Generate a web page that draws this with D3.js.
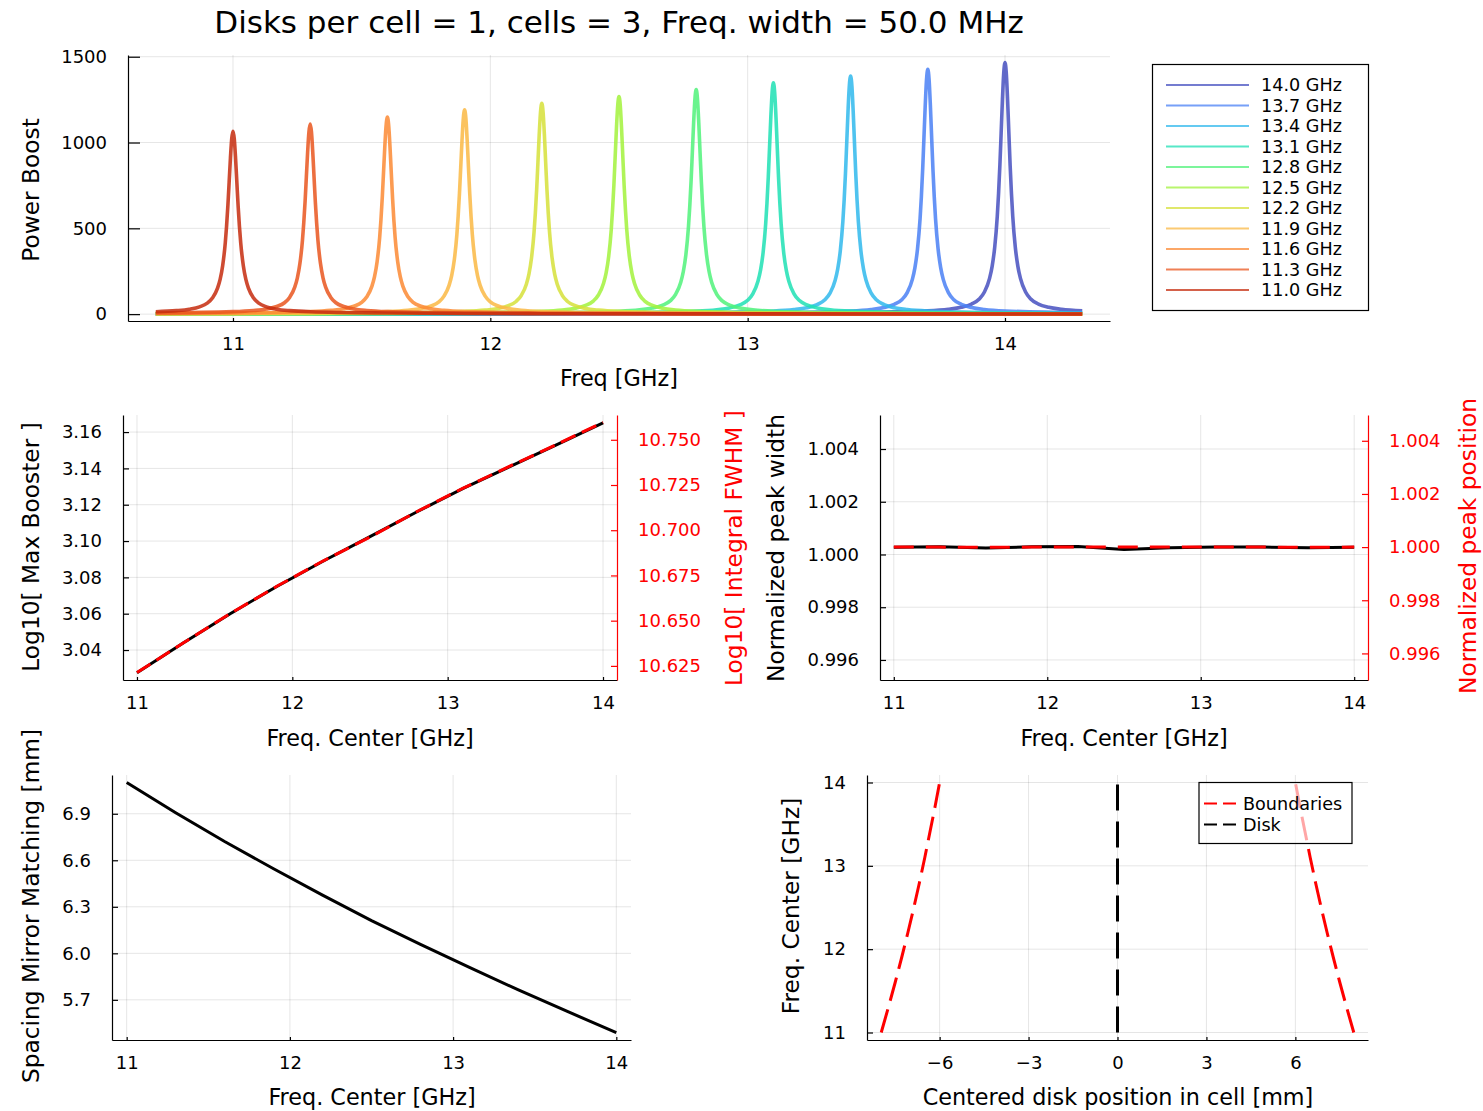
<!DOCTYPE html>
<html>
<head>
<meta charset="utf-8">
<script src="https://cdn.jsdelivr.net/npm/d3@7"></script>
<style>
  body { margin: 0; background: #fff; }
  svg text { font-family: "DejaVu Sans", sans-serif; }
</style>
</head>
<body>
<svg id="chart" width="1483" height="1111"></svg>
<script>
// values
var freqCenters = [11.0, 11.3, 11.6, 11.9, 12.2, 12.5, 12.8, 13.1, 13.4, 13.7, 14.0];
var seriesLabels = ["11.0 GHz", "11.3 GHz", "11.6 GHz", "11.9 GHz", "12.2 GHz", "12.5 GHz",
                    "12.8 GHz", "13.1 GHz", "13.4 GHz", "13.7 GHz", "14.0 GHz"];
var seriesColors = ["#c52c0e", "#e9561e", "#fb8a34", "#fab844", "#d6e03a", "#a2f23c",
                    "#50f27a", "#1fe0b4", "#30b8ec", "#4a80f5", "#4650c0"];
var peakHeights = [1066, 1107, 1148, 1190, 1229, 1268, 1308, 1348, 1388, 1427, 1466];
var freqSpan = [10.7, 14.3];
// shape of one resonance (offset from centre in GHz, fraction of peak height)
var profileOffsets = [0, 0.005, 0.01, 0.015, 0.02, 0.025, 0.03, 0.04, 0.05, 0.06, 0.08, 0.1,
                      0.13, 0.17, 0.22, 0.3, 0.6, 0.9, 1.2, 1.5, 1.8, 2.1, 2.4, 2.7, 3.0, 3.3, 3.6];
var profileValues = [1, 0.958, 0.852, 0.72, 0.59, 0.48, 0.39, 0.266, 0.19, 0.142, 0.088, 0.06,
                     0.04, 0.027, 0.019, 0.013, 0.006, 0.0035, 0.0025, 0.002, 0.0015, 0.0012,
                     0.001, 0.0009, 0.0008, 0.0007, 0.0006];

var logMaxBoost = [3.0275, 3.0440, 3.0600, 3.0750, 3.0890, 3.1024, 3.1160, 3.1290, 3.1410, 3.1530, 3.1651];
var logIntegralFwhm = [10.6213, 10.6378, 10.6539, 10.6690, 10.6831, 10.6962, 10.7102, 10.7233, 10.7354, 10.7474, 10.7596];
var normPeakWidth = [1.00027, 1.00029, 1.00025, 1.00029, 1.00030, 1.00019, 1.00026, 1.00028, 1.00028, 1.00026, 1.00027];
var normPeakPosition = [1.00000, 1.00000, 0.99999, 1.00000, 1.00000, 1.00000, 1.00000, 1.00000, 1.00000, 0.99999, 1.00000];
var spacingMirror = [7.102, 6.907, 6.721, 6.545, 6.375, 6.211, 6.058, 5.910, 5.764, 5.625, 5.489];
var boundaryPos = [7.97, 7.73, 7.50, 7.28, 7.07, 6.87, 6.68, 6.50, 6.33, 6.16, 6.00];
var diskPos = [0, 0, 0, 0, 0, 0, 0, 0, 0, 0, 0];

var svg = d3.select("#chart");
svg.append("rect").attr("width", 1483).attr("height", 1111).attr("fill", "#fff");

function panel(left, right, top, bottom, xDomain, yDomain) {
    return {
        left: left, right: right, top: top, bottom: bottom,
        x: d3.scaleLinear().domain(xDomain).range([left, right]),
        y: d3.scaleLinear().domain(yDomain).range([bottom, top])
    };
}

function grid(p, xTicks, yTicks) {
    var g = svg.append("g").attr("stroke", "#000").attr("stroke-opacity", 0.1).attr("stroke-width", 1);
    g.selectAll("line.gx").data(xTicks).enter().append("line").attr("class", "gx")
        .attr("x1", function (d) { return p.x(d); }).attr("x2", function (d) { return p.x(d); })
        .attr("y1", p.top).attr("y2", p.bottom);
    g.selectAll("line.gy").data(yTicks).enter().append("line").attr("class", "gy")
        .attr("y1", function (d) { return p.y(d); }).attr("y2", function (d) { return p.y(d); })
        .attr("x1", p.left).attr("x2", p.right);
}

function styleAxis(g, color) {
    g.attr("font-size", null).attr("font-family", null);
    g.selectAll("text").attr("fill", color).style("font-size", "18px");
    g.select(".domain").attr("stroke", color).attr("stroke-width", 1.2);
    g.selectAll(".tick line").attr("stroke", color).attr("stroke-width", 1.2);
}

function axes(p, xTicks, yTicks, xFmt, yFmt, yTickLen) {
    var gx = svg.append("g").attr("transform", "translate(0," + p.bottom + ")")
        .call(d3.axisBottom(p.x).tickValues(xTicks).tickFormat(xFmt)
            .tickSize(-3).tickSizeOuter(0).tickPadding(16));
    styleAxis(gx, "#000");
    var gy = svg.append("g").attr("transform", "translate(" + p.left + ",0)")
        .call(d3.axisLeft(p.y).tickValues(yTicks).tickFormat(yFmt)
            .tickSize(-yTickLen).tickSizeOuter(0).tickPadding(21));
    styleAxis(gy, "#000");
}

function rightAxis(p, y2, ticks, fmt) {
    var g = svg.append("g").attr("transform", "translate(" + p.right + ",0)")
        .call(d3.axisRight(y2).tickValues(ticks).tickFormat(fmt)
            .tickSize(-6).tickSizeOuter(0).tickPadding(21));
    styleAxis(g, "#ff0000");
}

function xLabel(text, cx, y) {
    svg.append("text").attr("x", cx).attr("y", y).attr("text-anchor", "middle")
        .style("font-size", "22.3px").text(text);
}

function yLabel(text, cx, cy, color) {
    svg.append("text").attr("transform", "translate(" + (cx + 8.5) + "," + cy + ") rotate(-90)")
        .attr("text-anchor", "middle").attr("fill", color || "#000")
        .style("font-size", "23.3px").text(text);
}

function lineOf(p, xs, ys, yScale) {
    var ysc = yScale || p.y;
    return d3.line()
        .x(function (d) { return p.x(d[0]); })
        .y(function (d) { return ysc(d[1]); })(d3.zip(xs, ys));
}

// ---------- title ----------
svg.append("text").attr("x", 619).attr("y", 33).attr("text-anchor", "middle")
    .style("font-size", "31px").text("Disks per cell = 1, cells = 3, Freq. width = 50.0 MHz");

// ---------- top: power boost spectra ----------
var pTop = panel(128, 1110, 55, 321, [10.592, 14.408], [-40, 1510]);
grid(pTop, [11, 12, 13, 14], [0, 500, 1000, 1500]);

function peakPoints(i) {
    var c = freqCenters[i], h = peakHeights[i], pts = [], k;
    for (k = profileOffsets.length - 1; k > 0; k--) pts.push([c - profileOffsets[k], h * profileValues[k]]);
    for (k = 0; k < profileOffsets.length; k++) pts.push([c + profileOffsets[k], h * profileValues[k]]);
    return pts.filter(function (d) { return d[0] >= freqSpan[0] - 1e-9 && d[0] <= freqSpan[1] + 1e-9; });
}

var peakLine = d3.line()
    .x(function (d) { return pTop.x(d[0]); })
    .y(function (d) { return pTop.y(d[1]); })
    .curve(d3.curveMonotoneX);

var order = d3.range(freqCenters.length).reverse();
svg.append("g").selectAll("path").data(order).enter().append("path")
    .attr("d", function (i) { return peakLine(peakPoints(i)); })
    .attr("fill", "none")
    .attr("stroke", function (i) { return seriesColors[i]; })
    .attr("stroke-width", 3.6)
    .attr("stroke-opacity", 0.85)
    .attr("stroke-linejoin", "round");

axes(pTop, [11, 12, 13, 14], [0, 500, 1000, 1500], d3.format("d"), d3.format("d"), 12);
xLabel("Freq [GHz]", 619, 386);
yLabel("Power Boost", 30, 190);

// legend
var leg = svg.append("g");
leg.append("rect").attr("x", 1152.5).attr("y", 64.5).attr("width", 216).attr("height", 246)
    .attr("fill", "#fff").attr("stroke", "#000").attr("stroke-width", 1.2);
var legRows = leg.selectAll("g.row").data(order).enter().append("g").attr("class", "row")
    .attr("transform", function (i, k) { return "translate(0," + (85 + k * 20.5) + ")"; });
legRows.append("line").attr("x1", 1166).attr("x2", 1249)
    .attr("stroke", function (i) { return seriesColors[i]; })
    .attr("stroke-width", 2).attr("stroke-opacity", 0.75);
legRows.append("text").attr("x", 1261).attr("dy", "0.35em").style("font-size", "17.6px")
    .text(function (i) { return seriesLabels[i]; });

// ---------- middle left: log max boost / log integral fwhm ----------
var pML = panel(123, 617, 415, 680, [10.91, 14.09], [3.0235, 3.1694]);
var yML2 = d3.scaleLinear().domain([10.6172, 10.7637]).range([680, 415]);
grid(pML, [11, 12, 13, 14], [3.04, 3.06, 3.08, 3.10, 3.12, 3.14, 3.16]);
svg.append("path").attr("d", lineOf(pML, freqCenters, logMaxBoost))
    .attr("fill", "none").attr("stroke", "#000").attr("stroke-width", 3);
svg.append("path").attr("d", lineOf(pML, freqCenters, logIntegralFwhm, yML2))
    .attr("fill", "none").attr("stroke", "#ff0000").attr("stroke-width", 3)
    .attr("stroke-dasharray", "16 7");
axes(pML, [11, 12, 13, 14], [3.04, 3.06, 3.08, 3.10, 3.12, 3.14, 3.16], d3.format("d"), d3.format(".2f"), 6);
rightAxis(pML, yML2, [10.625, 10.650, 10.675, 10.700, 10.725, 10.750], d3.format(".3f"));
xLabel("Freq. Center [GHz]", 370, 746);
yLabel("Log10[ Max Booster ]", 30, 547);
yLabel("Log10[ Integral FWHM ]", 733, 548, "#ff0000");

// ---------- middle right: normalized width / position ----------
var pMR = panel(880, 1368, 415, 680, [10.91, 14.09], [0.99524, 1.00529]);
var yMR2 = d3.scaleLinear().domain([0.99500, 1.00497]).range([680, 415]);
grid(pMR, [11, 12, 13, 14], [0.996, 0.998, 1.000, 1.002, 1.004]);
svg.append("path").attr("d", lineOf(pMR, freqCenters, normPeakWidth))
    .attr("fill", "none").attr("stroke", "#000").attr("stroke-width", 3);
svg.append("path").attr("d", lineOf(pMR, freqCenters, normPeakPosition, yMR2))
    .attr("fill", "none").attr("stroke", "#ff0000").attr("stroke-width", 3)
    .attr("stroke-dasharray", "20 12");
axes(pMR, [11, 12, 13, 14], [0.996, 0.998, 1.000, 1.002, 1.004], d3.format("d"), d3.format(".3f"), 6);
rightAxis(pMR, yMR2, [0.996, 0.998, 1.000, 1.002, 1.004], d3.format(".3f"));
xLabel("Freq. Center [GHz]", 1124, 746);
yLabel("Normalized peak width", 775, 548);
yLabel("Normalized peak position", 1467, 546, "#ff0000");

// ---------- bottom left: spacing mirror matching ----------
var pBL = panel(112, 631, 775, 1040, [10.91, 14.09], [5.441, 7.150]);
grid(pBL, [11, 12, 13, 14], [5.7, 6.0, 6.3, 6.6, 6.9]);
svg.append("path").attr("d", lineOf(pBL, freqCenters, spacingMirror))
    .attr("fill", "none").attr("stroke", "#000").attr("stroke-width", 3);
axes(pBL, [11, 12, 13, 14], [5.7, 6.0, 6.3, 6.6, 6.9], d3.format("d"), d3.format(".1f"), 6);
xLabel("Freq. Center [GHz]", 372, 1105);
yLabel("Spacing Mirror Matching [mm]", 30, 906);

// ---------- bottom right: disk position in cell ----------
var pBR = panel(867, 1368, 775, 1040, [-8.45, 8.45], [10.91, 14.09]);
grid(pBR, [-6, -3, 0, 3, 6], [11, 12, 13, 14]);
var posLine = d3.line()
    .x(function (d) { return pBR.x(d[0]); })
    .y(function (d) { return pBR.y(d[1]); });
var leftBound = boundaryPos.map(function (v) { return -v; });
[leftBound, boundaryPos].forEach(function (b) {
    svg.append("path").attr("d", posLine(d3.zip(b, freqCenters)))
        .attr("fill", "none").attr("stroke", "#ff0000").attr("stroke-width", 3)
        .attr("stroke-dasharray", "24 9");
});
svg.append("path").attr("d", posLine(d3.zip(diskPos, freqCenters)))
    .attr("fill", "none").attr("stroke", "#000").attr("stroke-width", 3)
    .attr("stroke-dasharray", "26 11");
axes(pBR, [-6, -3, 0, 3, 6], [11, 12, 13, 14], d3.format("d"), d3.format("d"), 6);
xLabel("Centered disk position in cell [mm]", 1118, 1105);
yLabel("Freq. Center [GHz]", 790, 906);

var leg2 = svg.append("g");
leg2.append("rect").attr("x", 1199).attr("y", 782.5).attr("width", 153).attr("height", 61)
    .attr("fill", "#fff").attr("fill-opacity", 0.65).attr("stroke", "#000").attr("stroke-width", 1.2);
var leg2Items = [["Boundaries", "#ff0000"], ["Disk", "#000"]];
var leg2Rows = leg2.selectAll("g.row").data(leg2Items).enter().append("g").attr("class", "row")
    .attr("transform", function (d, k) { return "translate(0," + (803.5 + k * 21) + ")"; });
leg2Rows.append("line").attr("x1", 1204).attr("x2", 1237)
    .attr("stroke", function (d) { return d[1]; }).attr("stroke-width", 2)
    .attr("stroke-dasharray", "13 6");
leg2Rows.append("text").attr("x", 1243).attr("dy", "0.35em").style("font-size", "17.6px")
    .text(function (d) { return d[0]; });
</script>
</body>
</html>
